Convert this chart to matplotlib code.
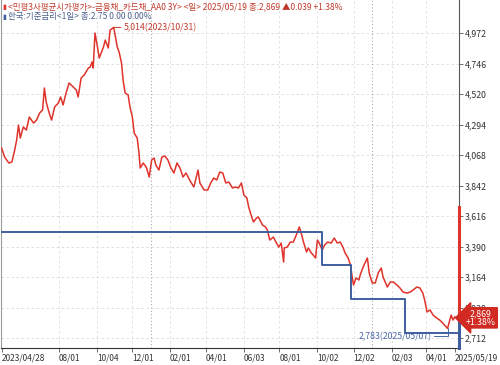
import matplotlib
matplotlib.use("Agg")
import matplotlib.pyplot as plt
import matplotlib.transforms as mtransforms
import pandas as pd

plt.rcParams['font.family'] = ['Noto Sans CJK KR', 'DejaVu Sans']

# -----------------------------
# Data
# -----------------------------
# card bond AA0 3Y yield (x1000)
bond_dates = [
    "2023-04-28", "2023-05-03", "2023-05-10", "2023-05-15", "2023-05-19", "2023-05-23",
    "2023-05-26", "2023-05-29", "2023-06-03", "2023-06-08", "2023-06-13", "2023-06-20",
    "2023-06-25", "2023-06-30", "2023-07-05", "2023-07-08", "2023-07-11", "2023-07-16",
    "2023-07-20", "2023-07-25", "2023-07-31", "2023-08-04", "2023-08-08", "2023-08-13",
    "2023-08-18", "2023-08-25", "2023-08-30", "2023-09-02", "2023-09-07", "2023-09-12",
    "2023-09-19", "2023-09-22", "2023-09-25", "2023-09-27", "2023-09-30", "2023-10-05",
    "2023-10-07", "2023-10-14", "2023-10-17", "2023-10-22", "2023-10-25", "2023-10-31",
    "2023-11-03", "2023-11-06", "2023-11-09", "2023-11-13", "2023-11-16", "2023-11-19",
    "2023-11-24", "2023-11-27", "2023-12-01", "2023-12-04", "2023-12-09", "2023-12-12",
    "2023-12-14", "2023-12-19", "2023-12-24", "2023-12-29",
    "2024-01-02", "2024-01-06", "2024-01-09", "2024-01-14", "2024-01-19", "2024-01-24",
    "2024-01-29", "2024-02-03", "2024-02-08", "2024-02-13", "2024-02-18", "2024-02-23",
    "2024-02-28", "2024-03-05", "2024-03-12", "2024-03-19", "2024-03-22", "2024-03-29",
    "2024-04-04", "2024-04-09", "2024-04-14", "2024-04-19", "2024-04-24", "2024-04-29",
    "2024-05-04", "2024-05-09", "2024-05-15", "2024-05-20", "2024-05-25", "2024-05-30",
    "2024-06-03", "2024-06-08", "2024-06-11", "2024-06-16", "2024-06-19", "2024-06-24",
    "2024-06-27", "2024-07-04", "2024-07-09", "2024-07-12", "2024-07-16", "2024-07-22",
    "2024-07-27", "2024-07-31", "2024-08-04", "2024-08-08", "2024-08-09", "2024-08-14",
    "2024-08-19", "2024-08-24", "2024-08-29", "2024-09-03", "2024-09-07", "2024-09-10",
    "2024-09-15", "2024-09-18", "2024-09-23", "2024-09-26", "2024-09-30", "2024-10-03",
    "2024-10-06", "2024-10-11", "2024-10-15", "2024-10-20", "2024-10-26", "2024-10-31",
    "2024-11-05", "2024-11-10", "2024-11-15", "2024-11-18", "2024-11-23", "2024-11-27",
    "2024-11-30", "2024-12-02", "2024-12-06", "2024-12-11", "2024-12-13", "2024-12-18",
    "2024-12-21", "2024-12-25", "2024-12-28",
    "2025-01-02", "2025-01-07", "2025-01-12", "2025-01-17", "2025-01-20", "2025-01-27",
    "2025-02-01", "2025-02-06", "2025-02-12", "2025-02-17", "2025-02-22", "2025-03-01",
    "2025-03-06", "2025-03-11", "2025-03-17", "2025-03-22", "2025-03-27", "2025-03-30",
    "2025-04-03", "2025-04-08", "2025-04-13", "2025-04-19", "2025-04-24", "2025-04-29",
    "2025-05-07", "2025-05-10", "2025-05-13", "2025-05-16", "2025-05-19",
]
bond_values = [
    4120, 4053, 4009, 4016, 4090, 4179,
    4290, 4194, 4276, 4253, 4350, 4305,
    4327, 4379, 4402, 4565, 4461, 4379,
    4327, 4424, 4453, 4498, 4439, 4528,
    4602, 4572, 4550, 4498, 4639, 4661,
    4713, 4720, 4757, 4713, 4972, 4846,
    4787, 4868, 4920, 4861, 4994, 5014,
    4942, 4868, 4831, 4750, 4609, 4528,
    4513, 4424, 4350, 4231, 4194, 4083,
    3972, 4009, 3979, 3905,
    4031, 4046, 3994, 3957, 4053, 4061,
    4031, 3972, 3935, 4009, 3972, 3905,
    3935, 3883, 3831, 3957, 3861, 3809,
    3809, 3861, 3898, 3883, 3942, 3935,
    3861, 3868, 3824, 3831, 3824, 3861,
    3772, 3750, 3683, 3609, 3572, 3601,
    3609, 3549, 3535, 3512, 3438, 3460,
    3416, 3386, 3416, 3275, 3379, 3386,
    3423, 3423, 3475, 3535, 3475, 3423,
    3349, 3379, 3342, 3327, 3305, 3438,
    3416, 3364, 3401, 3423, 3416, 3453,
    3416, 3423, 3379, 3342, 3305, 3253,
    3157, 3105, 3157, 3142, 3179, 3238,
    3268, 3305, 3194,
    3120, 3120, 3194, 3231, 3164, 3090,
    3127, 3127, 3105, 3083, 3053, 3045,
    3053, 3068, 3090, 3083, 3045, 2994,
    2905, 2920, 2882, 2860, 2845, 2823,
    2783, 2831, 2882, 2845, 2869,
]

# Korea base rate (x1000)
base_dates = ["2023-04-28", "2024-10-11", "2024-11-28", "2025-02-25", "2025-05-22"]
base_values = [3500, 3250, 3000, 2750, 2750]

y_ticks = [2712, 2938, 3164, 3390, 3616, 3842, 4068, 4294, 4520, 4746, 4972]
x_tick_dates = ["2023-04-28", "2023-08-01", "2023-10-04", "2023-12-01", "2024-02-01",
                "2024-04-01", "2024-06-03", "2024-08-01", "2024-10-02", "2024-12-02",
                "2025-02-03", "2025-04-01", "2025-05-19"]
x_tick_labels = ["2023/04/28", "08/01", "10/04", "12/01", "02/01", "04/01", "06/03",
                 "08/01", "10/02", "12/02", "02/03", "04/01", "2025/05/19"]
year_lines = ["2024-01-01", "2025-01-01"]

title1 = "<민평3사평균시가평가>-금융채_카드채_AA0 3Y> <일> 2025/05/19 종:2,869 ▲0.039 +1.38%"
title2 = "한국:기준금리<1일> 종:2.75 0.00 0.00%"

RED = "#e0332b"
BLUE = "#3f5f9f"

bx = pd.to_datetime(bond_dates)
rx = pd.to_datetime(base_dates)

# -----------------------------
# Plot
# -----------------------------
fig = plt.figure(figsize=(5, 3.65), dpi=100)
ax = fig.add_axes([0.002, 1 - 348 / 365, 0.916, 348 / 365])

# grid
for v in y_ticks:
    ax.axhline(v, color="#d9d9d9", lw=0.6, ls=(0, (3, 3)), zorder=0)
for d in x_tick_dates[1:-1]:
    ax.axvline(pd.Timestamp(d), color="#dedede", lw=0.6, ls=(0, (3, 3)), zorder=0)
for d in year_lines:
    ax.axvline(pd.Timestamp(d), color="#aaaaaa", lw=0.8, ls=(0, (1, 2)), zorder=0)

ax.plot(bx, bond_values, color=RED, lw=1.1, zorder=3)
ax.plot(rx, base_values, color=BLUE, lw=1.4, drawstyle="steps-post", zorder=4)

ax.set_xlim(pd.Timestamp("2023-04-27"), pd.Timestamp("2025-05-26"))
ax.set_ylim(2638, 5217)

# axes styling
ax.spines["top"].set_visible(False)
ax.spines["left"].set_color("#9a9a9a")
ax.spines["left"].set_linewidth(0.8)
ax.spines["bottom"].set_color("#333333")
ax.spines["right"].set_color("#555555")
ax.spines["right"].set_linewidth(0.8)

ax.yaxis.tick_right()
ax.set_yticks(y_ticks)
ax.set_yticklabels([f"{v:,}" for v in y_ticks])
ax.tick_params(axis="y", length=3, width=0.6, pad=1, labelsize=6.3,
               color="#555555", labelcolor="#333333")

ax.set_xticks(pd.to_datetime(x_tick_dates))
ax.set_xticklabels(x_tick_labels)
ax.tick_params(axis="x", length=3, width=0.6, pad=1, labelsize=6.0,
               color="#555555", labelcolor="#333333")
for lab in ax.get_xticklabels():
    lab.set_horizontalalignment("left")

# current value marker on the right axis
trans = mtransforms.blended_transform_factory(ax.transAxes, ax.transData)
ax.plot([1, 1], [2845, 3683], transform=trans, color=RED, lw=2.2, clip_on=False, zorder=5)
ax.plot([1, 1], [2638, 2845], transform=trans, color=BLUE, lw=2.2, clip_on=False, zorder=5)
ax.annotate("2,869\n+1.38%", xy=(1.0, bond_values[-1]), xycoords=trans,
            xytext=(22, -1), textcoords="offset pixels", ha="center", va="center",
            fontsize=6.3, color="white", linespacing=0.95,
            bbox=dict(boxstyle="larrow,pad=0.15", fc="#d02a22", ec="#d02a22"),
            annotation_clip=False, zorder=10)

# high / low annotations
hi = bond_values.index(max(bond_values))
ax.annotate("5,014(2023/10/31)", xy=(bx[hi], bond_values[hi]),
            xytext=(10, 0), textcoords="offset pixels", ha="left", va="center",
            fontsize=6.3, color="#c0392b",
            arrowprops=dict(arrowstyle="-", color="#c0392b", lw=0.7,
                            shrinkA=0, shrinkB=0))
lo = bond_values.index(min(bond_values))
ax.annotate("2,783(2025/05/07)", xy=(bx[lo], bond_values[lo]),
            xytext=(-16, -8), textcoords="offset pixels", ha="right", va="center",
            fontsize=6.3, color="#4a68a8",
            arrowprops=dict(arrowstyle="-", color="#4a68a8", lw=0.7,
                            shrinkA=0, shrinkB=0,
                            connectionstyle="angle,angleA=0,angleB=90,rad=0"))

# header texts
fig.text(0.004, 1 - 7 / 365, "▮", fontsize=5, color=RED, va="center")
fig.text(0.016, 1 - 7 / 365, title1, fontsize=6.1, color="#c0392b", va="center")
fig.text(0.004, 1 - 17 / 365, "▮", fontsize=5, color=BLUE, va="center")
fig.text(0.016, 1 - 17 / 365, title2, fontsize=6.1, color="#4a5f8a", va="center")

fig.savefig("out.png", dpi=100)
